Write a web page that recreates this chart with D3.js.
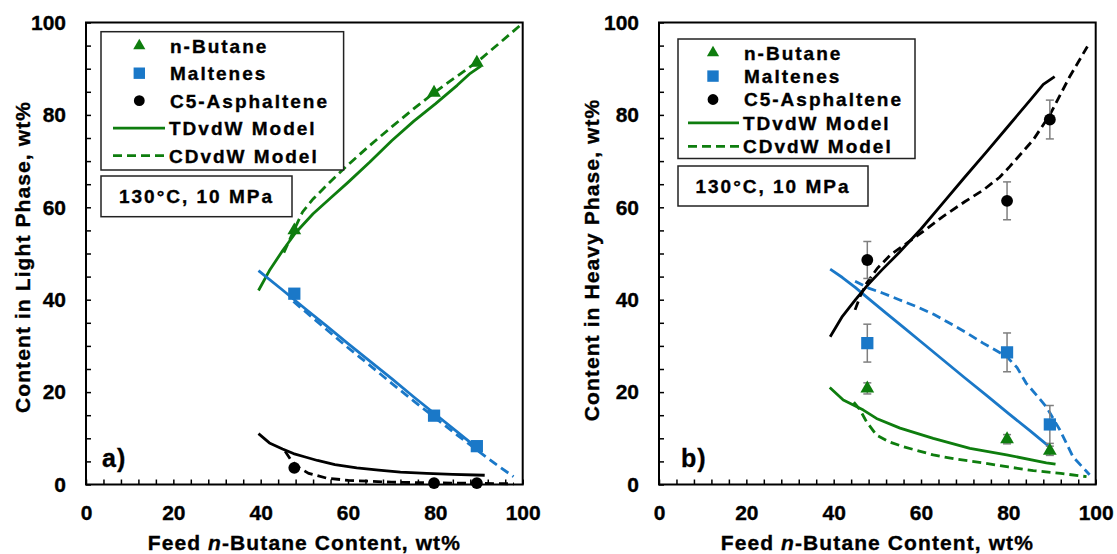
<!DOCTYPE html>
<html><head><meta charset="utf-8">
<script src="https://cdn.jsdelivr.net/npm/d3@7"></script>
<style>
body{margin:0;background:#fff;}
svg text{font-family:"Liberation Sans",Arial,sans-serif;font-weight:bold;fill:#000;stroke:#000;stroke-width:0.35px;}
</style></head><body>
<svg id="chart" width="1117" height="554"></svg>
<script>
// ---------------- data ----------------
const xTickLabels = [0, 20, 40, 60, 80, 100];
const yTickLabels = [0, 20, 40, 60, 80, 100];
const seriesNames = ["n-Butane", "Maltenes", "C5-Asphaltene"];
const modelNames = ["TDvdW Model", "CDvdW Model"];
const conditionLabel = "130°C, 10 MPa";
const panelLabels = ["a)", "b)"];
const yTitles = ["Content in Light Phase, wt%", "Content in Heavy Phase, wt%"];

const feedExp = [47.7, 79.7, 89.5];

// panel a: light phase
const lightButaneExp = [55.0, 84.8, 91.3];
const lightMaltenesExp = [41.3, 14.9, 8.3];
const lightAsphalteneExp = [3.6, 0.3, 0.3];
const lightButaneTD = [[39.5,42.0],[42,46.3],[45,50.6],[48,54.5],[52,58.6],[56,62.0],[60,65.4],[65,69.8],[70,74.4],[75,78.6],[80,82.4],[85,86.4],[88,89.0],[90.5,90.6]];
const lightButaneCD = [[45.3,50.2],[47.7,55.2],[49.6,59.0],[52,61.8],[56,65.6],[60,69.2],[65,73.4],[70,77.4],[75,81.3],[80,85.0],[85,88.4],[90,91.8],[95,95.8],[99.7,99.6]];
const lightMaltenesTD = [[39.5,46.3],[45,42.1],[50,38.2],[55,34.4],[60,30.5],[65,26.7],[70,22.9],[75,19.0],[80,15.2],[85,11.4],[90.6,7.1]];
const lightMaltenesCD = [[47.5,39.6],[50,37.6],[55,33.6],[60,29.6],[65,25.8],[70,21.9],[75,18.1],[80,14.4],[85,10.7],[90,7.1],[94,4.3],[97.9,1.7]];
const lightAsphalteneTD = [[39.5,11.0],[42,9.0],[45,7.7],[47.5,6.7],[50,6.0],[53,5.2],[57,4.3],[62,3.6],[67,3.1],[72,2.7],[78,2.4],[84,2.2],[91.3,2.0]];
const lightAsphalteneCD = [[45.6,7.2],[47,5.2],[48.5,3.8],[51,2.4],[55,1.4],[60,0.9],[65,0.7],[70,0.5],[80,0.35],[90,0.25],[98,0.15]];

// panel b: heavy phase
const heavyButaneExp = [20.8, 9.8, 7.3];
const heavyButaneErr = [1.2, 1.0, 1.0];
const heavyMaltenesExp = [30.6, 28.6, 13.0];
const heavyMaltenesErr = [4.1, 4.2, 4.1];
const heavyAsphalteneExp = [48.6, 61.4, 79.0];
const heavyAsphalteneErr = [4.0, 4.1, 4.2];
const heavyButaneTD = [[39.1,21.0],[42.2,18.3],[46.8,16.1],[49.8,14.3],[55.2,12.2],[62.8,10.0],[71.2,7.8],[79.6,6.4],[88.7,4.7],[90.8,4.4]];
const heavyButaneCD = [[44.6,17.8],[46,16.2],[47.5,13.6],[49.8,10.7],[52.5,9.3],[55.9,8.2],[62.8,6.4],[68,5.5],[74.2,4.7],[80,3.8],[85.7,3.0],[92,2.4],[97.9,1.7]];
const heavyMaltenesTD = [[39.2,46.6],[42,44.8],[45,42.6],[47.5,40.6],[52,37.1],[56,34.0],[60,30.9],[65,27.0],[70,23.1],[75,19.3],[80,15.4],[85,11.6],[89.5,8.1]];
const heavyMaltenesCD = [[44.9,44.0],[48,42.5],[51.3,41.4],[55,40.0],[59,38.5],[63,36.8],[66.6,34.9],[70.5,32.8],[74.2,30.6],[77,29.1],[79.6,27.7],[82,25.3],[84.1,21.9],[86.5,19.3],[88.7,16.8],[91.8,11.8],[94.8,6.0],[98.6,2.1]];
const heavyAsphalteneTD = [[39.2,32.0],[42,36.4],[45,40.0],[48,43.4],[51,46.4],[55,50.2],[60,55.3],[65,60.9],[70,66.5],[75,72.0],[80,77.6],[85,83.2],[88,86.6],[90.6,88.3]];
const heavyAsphalteneCD = [[44.9,37.8],[46,40.6],[47.5,43.5],[50,46.8],[53,49.7],[57,52.4],[61,55.1],[65,58.0],[70,61.2],[74.2,63.7],[78,66.5],[80.3,68.8],[83,71.7],[85.7,74.6],[89.5,80.0],[94,88.2],[98.1,94.8]];

// ---------------- styling ----------------
const GREEN = "#0e7d0e", BLUE = "#1a78c8", BLACK = "#000";
const DASH = "9,5";
const LW = 2.8;

const svg = d3.select("#chart");

const panels = [
  {
    x0: 86, x1: 522.7, y0: 22.5, y1: 484.5, yTitleX: 30, yTitleY: 257,
    yTitle: yTitles[0], label: panelLabels[0], labelDx: 16,
    legend: {x0: 101, y0: 31.7, x1: 343.6, y1: 170, rowY: 45.7, step: 27.5, markX: 139.3, textX: 170, lineX0: 113, lineX1: 165},
    cond: {x0: 101, y0: 176, x1: 292, y1: 216.7},
    exp: [lightButaneExp, lightMaltenesExp, lightAsphalteneExp],
    err: null,
    td: [lightButaneTD, lightMaltenesTD, lightAsphalteneTD],
    cd: [lightButaneCD, lightMaltenesCD, lightAsphalteneCD]
  },
  {
    x0: 659, x1: 1095.7, y0: 22.5, y1: 484.5, yTitleX: 599, yTitleY: 260,
    yTitle: yTitles[1], label: panelLabels[1], labelDx: 22,
    legend: {x0: 678, y0: 39, x1: 915, y1: 158.5, rowY: 52.7, step: 23.4, markX: 713, textX: 744, lineX0: 688, lineX1: 739},
    cond: {x0: 678, y0: 166, x1: 868, y1: 206},
    exp: [heavyButaneExp, heavyMaltenesExp, heavyAsphalteneExp],
    err: [heavyButaneErr, heavyMaltenesErr, heavyAsphalteneErr],
    td: [heavyButaneTD, heavyMaltenesTD, heavyAsphalteneTD],
    cd: [heavyButaneCD, heavyMaltenesCD, heavyAsphalteneCD]
  }
];

const colors = [GREEN, BLUE, BLACK];
const symbols = [d3.symbolTriangle, d3.symbolSquare, d3.symbolCircle];
const symSizes = [82, 150, 110];
const legSizes = [64, 130, 92];

panels.forEach(p => {
  const g = svg.append("g");
  const x = d3.scaleLinear().domain([0, 100]).range([p.x0, p.x1]);
  const y = d3.scaleLinear().domain([0, 100]).range([p.y1, p.y0]);

  // minor ticks (inside)
  g.append("g").attr("transform", `translate(0,${p.y1})`)
    .call(d3.axisBottom(x).tickValues(d3.range(0, 101, 4)).tickSizeInner(-5).tickSizeOuter(0).tickFormat(""))
    .call(s => { s.select(".domain").remove(); s.selectAll("line").attr("stroke", "#000").attr("stroke-width", 1.5); });
  g.append("g").attr("transform", `translate(${p.x0},0)`)
    .call(d3.axisLeft(y).tickValues(d3.range(0, 101, 5)).tickSizeInner(-5).tickSizeOuter(0).tickFormat(""))
    .call(s => { s.select(".domain").remove(); s.selectAll("line").attr("stroke", "#000").attr("stroke-width", 1.5); });

  // tick labels
  g.append("g").attr("transform", `translate(0,${p.y1})`)
    .call(d3.axisBottom(x).tickValues(xTickLabels).tickSize(0).tickPadding(21))
    .call(s => { s.select(".domain").remove(); s.selectAll("text").attr("font-size", 21).attr("font-family", "Liberation Sans, Arial, sans-serif").attr("font-weight", "bold"); });
  g.append("g").attr("transform", `translate(${p.x0},0)`)
    .call(d3.axisLeft(y).tickValues(yTickLabels).tickSize(0).tickPadding(20))
    .call(s => { s.select(".domain").remove(); s.selectAll("text").attr("font-size", 21).attr("font-family", "Liberation Sans, Arial, sans-serif").attr("font-weight", "bold"); });

  // frame
  g.append("rect").attr("x", p.x0).attr("y", p.y0).attr("width", p.x1 - p.x0).attr("height", p.y1 - p.y0)
    .attr("fill", "none").attr("stroke", "#000").attr("stroke-width", 2);

  // axis titles
  const xt = g.append("text").attr("x", (p.x0 + p.x1) / 2).attr("y", 550).attr("text-anchor", "middle")
    .attr("font-size", 21).attr("letter-spacing", 1.1);
  xt.append("tspan").text("Feed ");
  xt.append("tspan").attr("font-style", "italic").text("n");
  xt.append("tspan").text("-Butane Content, wt%");
  g.append("text").attr("transform", `translate(${p.yTitleX},${p.yTitleY}) rotate(-90)`)
    .attr("text-anchor", "middle").attr("font-size", 21).attr("letter-spacing", 1.1).text(p.yTitle);

  const line = d3.line().x(d => x(d[0])).y(d => y(d[1]));

  // model lines
  p.td.forEach((d, i) => {
    g.append("path").attr("d", line(d)).attr("fill", "none").attr("stroke", colors[i]).attr("stroke-width", LW).attr("stroke-linejoin", "round");
  });
  p.cd.forEach((d, i) => {
    g.append("path").attr("d", line(d)).attr("fill", "none").attr("stroke", colors[i]).attr("stroke-width", LW).attr("stroke-dasharray", DASH);
  });

  // error bars
  if (p.err) {
    p.exp.forEach((vals, i) => {
      vals.forEach((v, j) => {
        const e = p.err[i][j], cx = x(feedExp[j]);
        const eg = g.append("g").attr("stroke", "#7f7f7f").attr("stroke-width", 1.5);
        eg.append("line").attr("x1", cx).attr("x2", cx).attr("y1", y(v - e)).attr("y2", y(v + e));
        eg.append("line").attr("x1", cx - 4).attr("x2", cx + 4).attr("y1", y(v - e)).attr("y2", y(v - e));
        eg.append("line").attr("x1", cx - 4).attr("x2", cx + 4).attr("y1", y(v + e)).attr("y2", y(v + e));
      });
    });
  }

  // markers
  p.exp.forEach((vals, i) => {
    g.selectAll(null).data(vals).join("path")
      .attr("transform", (v, j) => `translate(${x(feedExp[j])},${y(v)})`)
      .attr("d", d3.symbol(symbols[i], symSizes[i])())
      .attr("fill", colors[i]);
  });

  // legend
  const L = p.legend;
  g.append("rect").attr("x", L.x0).attr("y", L.y0).attr("width", L.x1 - L.x0).attr("height", L.y1 - L.y0)
    .attr("fill", "#fff").attr("stroke", "#222").attr("stroke-width", 1.5);
  seriesNames.forEach((nm, i) => {
    const cy = L.rowY + i * L.step;
    g.append("path").attr("transform", `translate(${L.markX},${cy})`).attr("d", d3.symbol(symbols[i], legSizes[i])()).attr("fill", colors[i]);
    g.append("text").attr("x", L.textX).attr("y", cy).attr("dy", "0.36em").attr("font-size", 19).attr("letter-spacing", 2).text(nm);
  });
  modelNames.forEach((nm, k) => {
    const cy = L.rowY + (3 + k) * L.step;
    g.append("line").attr("x1", L.lineX0).attr("x2", L.lineX1).attr("y1", cy).attr("y2", cy)
      .attr("stroke", GREEN).attr("stroke-width", LW).attr("stroke-dasharray", k === 1 ? DASH : null);
    g.append("text").attr("x", L.lineX1 + 4).attr("y", cy).attr("dy", "0.36em").attr("font-size", 19).attr("letter-spacing", 2).text(nm);
  });

  // condition box
  const C = p.cond;
  g.append("rect").attr("x", C.x0).attr("y", C.y0).attr("width", C.x1 - C.x0).attr("height", C.y1 - C.y0)
    .attr("fill", "#fff").attr("stroke", "#222").attr("stroke-width", 1.5);
  g.append("text").attr("x", (C.x0 + C.x1) / 2).attr("y", (C.y0 + C.y1) / 2).attr("dy", "0.36em")
    .attr("text-anchor", "middle").attr("font-size", 19).attr("letter-spacing", 2).text(conditionLabel);

  // panel label
  g.append("text").attr("x", p.x0 + p.labelDx).attr("y", 467).attr("font-size", 25).attr("letter-spacing", 1).text(p.label);
});
</script>
</body></html>
